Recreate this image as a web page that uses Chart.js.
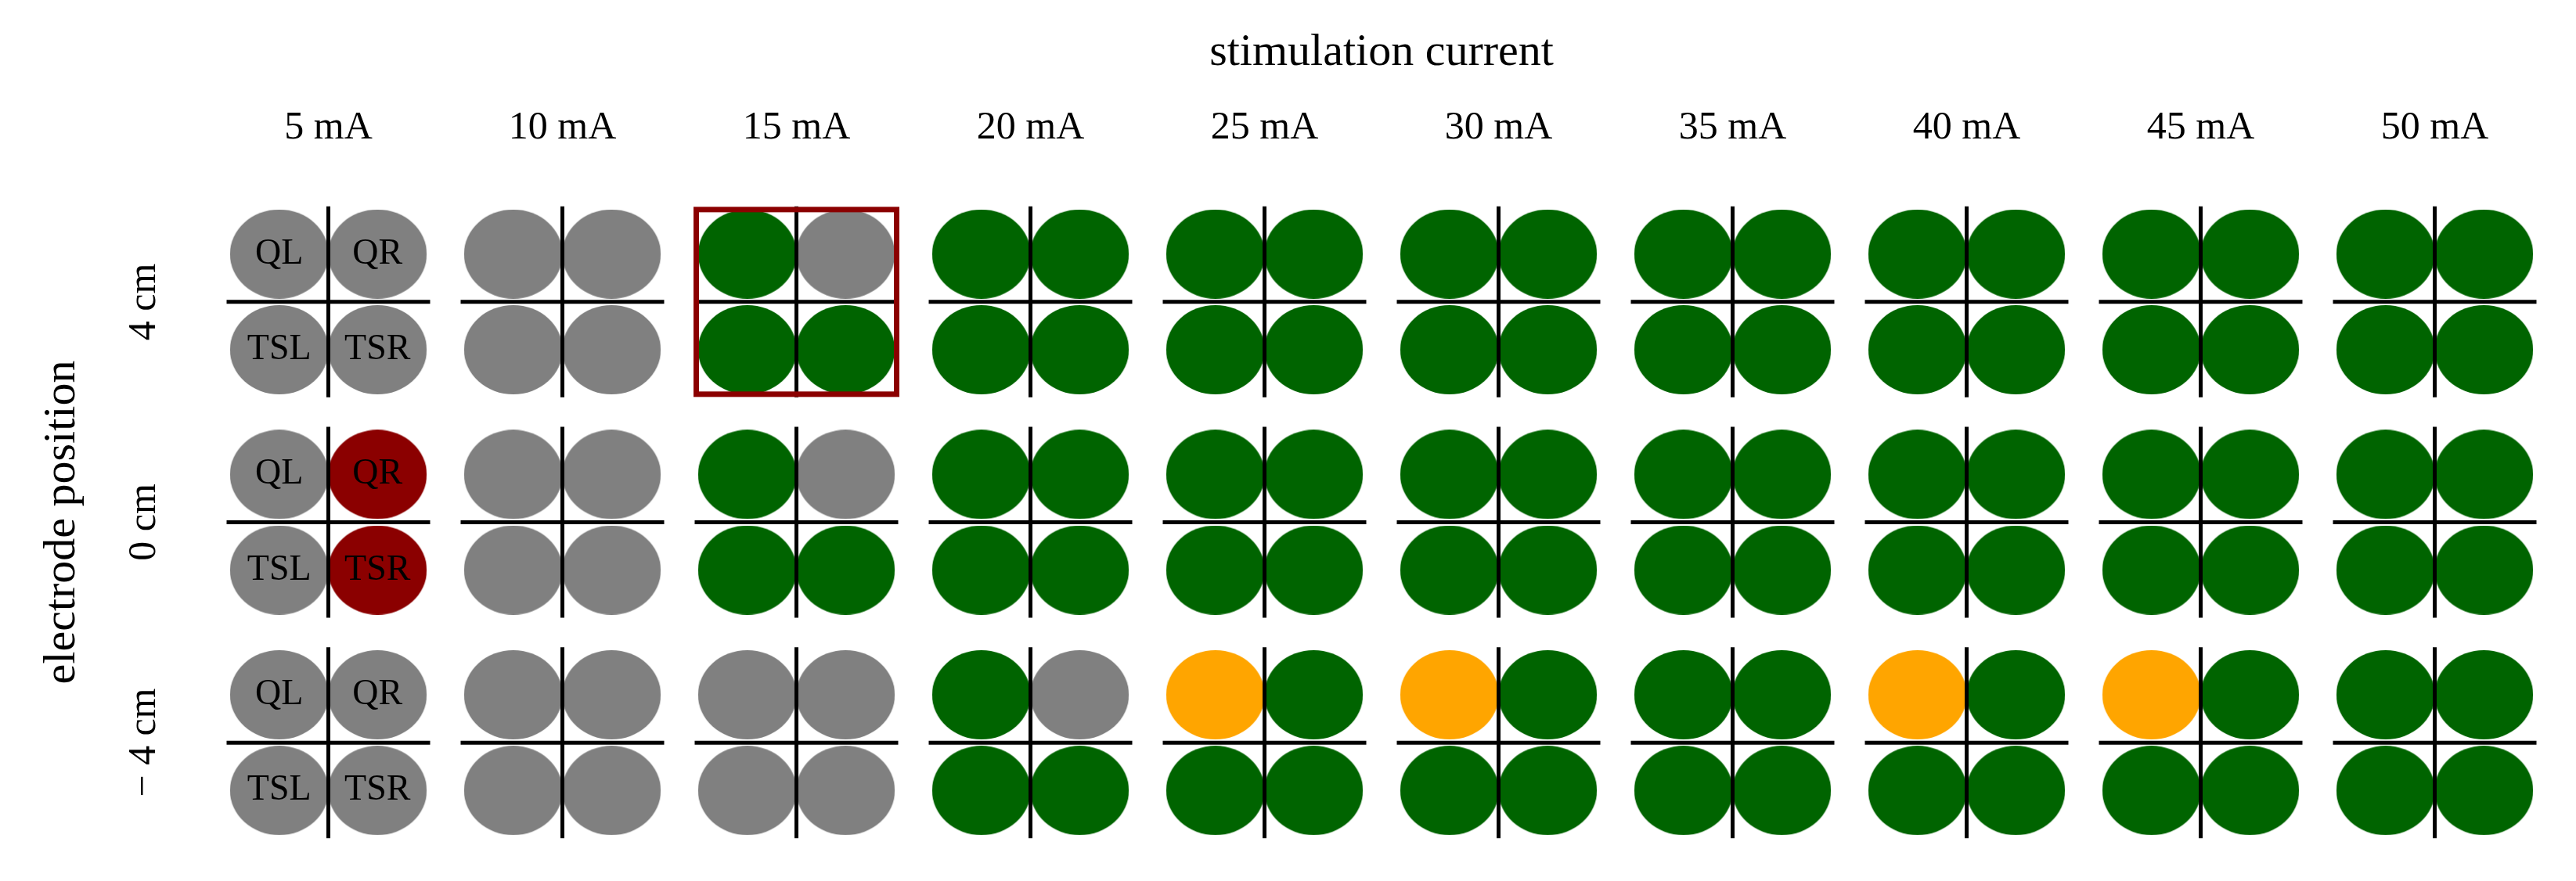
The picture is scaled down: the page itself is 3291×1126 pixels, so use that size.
<!DOCTYPE html>
<html>
<head>
<meta charset="utf-8">
<script src="https://cdn.jsdelivr.net/npm/chart.js@4"></script>
<style>
  html, body { margin: 0; padding: 0; background: #fff; }
  #wrap { width: 3291px; height: 1126px; }
</style>
</head>
<body>
<div id="wrap"><canvas id="chart" width="3291" height="1126"></canvas></div>
<script>
// data
const currents = ["5 mA", "10 mA", "15 mA", "20 mA", "25 mA", "30 mA", "35 mA", "40 mA", "45 mA", "50 mA"];
const positions = ["4 cm", "0 cm", "\u2212 4 cm"];
const quadrants = ["QL", "QR", "TSL", "TSR"];
// per cell: state of QL, QR, TSL, TSR (g grey, G green, r red, o orange)
const row4cm  = ["gggg", "gggg", "GgGG", "GGGG", "GGGG", "GGGG", "GGGG", "GGGG", "GGGG", "GGGG"];
const row0cm  = ["grgr", "gggg", "GgGG", "GGGG", "GGGG", "GGGG", "GGGG", "GGGG", "GGGG", "GGGG"];
const rowM4cm = ["gggg", "gggg", "gggg", "GgGG", "oGGG", "oGGG", "GGGG", "oGGG", "oGGG", "GGGG"];
const highlighted = { col: 2, row: 0 };

const rows = [row4cm, row0cm, rowM4cm];
const colors = { g: "#808080", G: "#006400", r: "#8b0000", o: "#ffa500" };
const dx = 0.21, dy = 0.217;
const qOff = [[-dx, dy], [dx, dy], [-dx, -dy], [dx, -dy]];
const rowY = r => 2 - r;

function ellipseImg(color) {
  const c = document.createElement("canvas");
  c.width = 126; c.height = 114;
  const g = c.getContext("2d");
  g.fillStyle = color;
  g.beginPath();
  g.ellipse(63, 57, 63, 57, 0, 0, Math.PI * 2);
  g.fill();
  return c;
}

const datasets = Object.keys(colors).map(k => {
  const pts = [];
  rows.forEach((row, r) => row.forEach((cell, c) => {
    for (let q = 0; q < 4; q++) {
      if (cell[q] === k) pts.push({ x: c + qOff[q][0], y: rowY(r) + qOff[q][1] });
    }
  }));
  return { data: pts, pointStyle: ellipseImg(colors[k]), pointRadius: 30 };
});

const serif = "'Liberation Serif', 'DejaVu Serif', serif";

const overlay = {
  id: "overlay",
  afterDatasetsDraw(chart) {
    const ctx = chart.ctx;
    const xs = chart.scales.x, ys = chart.scales.y;
    ctx.save();
    // crosshairs
    ctx.strokeStyle = "#000";
    ctx.lineWidth = 5;
    rows.forEach((row, r) => row.forEach((cell, c) => {
      const px = xs.getPixelForValue(c), py = ys.getPixelForValue(rowY(r));
      ctx.beginPath();
      ctx.moveTo(px - 130, py); ctx.lineTo(px + 130, py);
      ctx.moveTo(px, py - 122); ctx.lineTo(px, py + 122);
      ctx.stroke();
    }));
    // highlight box
    const hx = xs.getPixelForValue(highlighted.col), hy = ys.getPixelForValue(rowY(highlighted.row));
    ctx.strokeStyle = "#8b0000";
    ctx.lineWidth = 7;
    ctx.strokeRect(hx - 128, hy - 118, 256, 236);
    // quadrant labels in first column
    ctx.fillStyle = "#000";
    ctx.textAlign = "center";
    ctx.textBaseline = "middle";
    ctx.font = "46px " + serif;
    rows.forEach((row, r) => {
      for (let q = 0; q < 4; q++) {
        ctx.fillText(quadrants[q], xs.getPixelForValue(qOff[q][0]), ys.getPixelForValue(rowY(r) + qOff[q][1]));
      }
    });
    // column labels
    ctx.font = "50px " + serif;
    currents.forEach((t, c) => ctx.fillText(t, xs.getPixelForValue(c), 164));
    ctx.font = "58px " + serif;
    ctx.fillText("stimulation current", (xs.left + xs.right) / 2, 68);
    // row labels
    positions.forEach((t, r) => {
      ctx.save();
      ctx.translate(185, ys.getPixelForValue(rowY(r)));
      ctx.rotate(-Math.PI / 2);
      ctx.font = "50px " + serif;
      ctx.fillText(t, 0, 0);
      ctx.restore();
    });
    ctx.save();
    ctx.translate(80, ys.getPixelForValue(1));
    ctx.rotate(-Math.PI / 2);
    ctx.font = "58px " + serif;
    ctx.fillText("electrode position", 0, 0);
    ctx.restore();
    ctx.restore();
  }
};

new Chart(document.getElementById("chart").getContext("2d"), {
  type: "scatter",
  data: { datasets },
  options: {
    responsive: false,
    animation: false,
    devicePixelRatio: 1,
    layout: { padding: { left: 270, right: 24, top: 245, bottom: 36 } },
    scales: {
      x: { type: "linear", min: -0.5, max: 9.5, display: false },
      y: { type: "linear", min: -0.5, max: 2.5, display: false },
    },
    plugins: { legend: { display: false }, tooltip: { enabled: false } },
  },
  plugins: [overlay],
});
</script>
</body>
</html>
